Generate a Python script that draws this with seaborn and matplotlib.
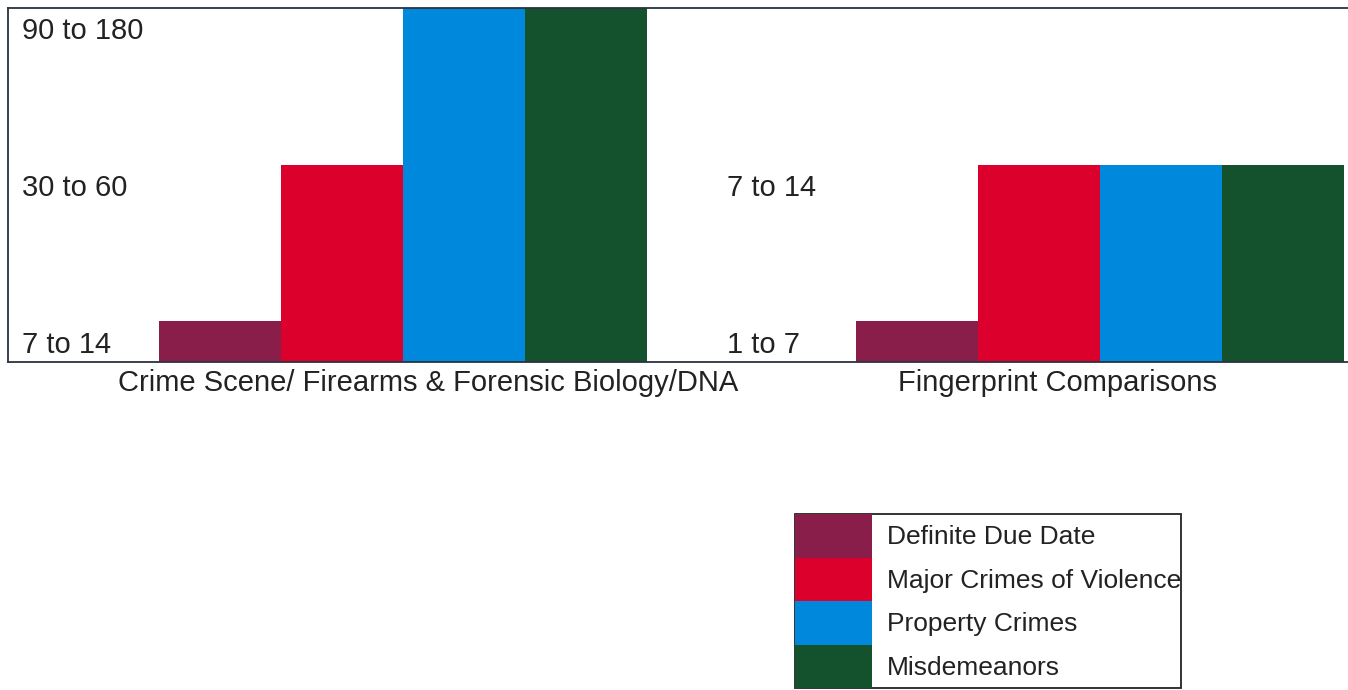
import pandas as pd
import seaborn as sns
import matplotlib.pyplot as plt

# data
sections = ["Crime Scene/ Firearms & Forensic Biology/DNA", "Fingerprint Comparisons"]
series = ["Definite Due Date", "Major Crimes of Violence", "Property Crimes", "Misdemeanors"]
# ordinal turnaround level (1 = lowest range)
crime_scene_levels = [1, 2, 3, 3]
fingerprint_levels = [1, 2, 2, 2]
crime_scene_ticks = ["7 to 14", "30 to 60", "90 to 180"]
fingerprint_ticks = ["1 to 7", "7 to 14"]
colors = ["#8A1E4B", "#DC002D", "#0088DD", "#14522D"]

df = pd.DataFrame({
    "section": [sections[0]] * 4 + [sections[1]] * 4,
    "series": series * 2,
    "level": crime_scene_levels + fingerprint_levels,
})

sns.set_style("white")
plt.rcParams["font.family"] = ["Liberation Sans", "DejaVu Sans"]

fig = plt.figure(figsize=(13.48, 6.90), dpi=100)
ax = fig.add_axes([8 / 1348, 1 - 362 / 690, 1 - 8 / 1348, 354 / 690])

sns.barplot(data=df, x="section", y="level", hue="series", order=sections,
            hue_order=series, palette=colors, saturation=1, width=0.7,
            linewidth=0, ax=ax)

ax.set_xlim(-0.567, 1.356)
ax.set_ylim(0.74, 3.0)
ax.set_xlabel("")
ax.set_ylabel("")
ax.set_yticks([])

# x labels sit a bit off the group centres in the original
ax.set_xticks([0.036, 0.939])
ax.set_xticklabels(sections, fontsize=21, color="#222222")
ax.tick_params(axis="x", length=0, pad=5)

# range labels drawn inside the plot
for x0, ticks in [(-0.547, crime_scene_ticks), (0.465, fingerprint_ticks)]:
    for i, t in enumerate(ticks):
        ax.text(x0, i + 1 - 0.15, t, fontsize=21, color="#222222",
                ha="left", va="center")

for s in ["left", "top", "bottom"]:
    ax.spines[s].set_color("#2a3340")
    ax.spines[s].set_linewidth(1.3)
ax.spines["right"].set_visible(False)

handles, labels = ax.get_legend_handles_labels()
ax.get_legend().remove()
leg = fig.legend(handles, labels, loc="upper left",
                 bbox_to_anchor=(795 / 1348, 1 - 514 / 690),
                 bbox_transform=fig.transFigure, fontsize=19,
                 handlelength=2.92, handleheight=2.16, handletextpad=0.57,
                 labelspacing=0, borderpad=0, borderaxespad=0,
                 fancybox=False, framealpha=1)
leg.get_frame().set_edgecolor("#222222")
leg.get_frame().set_linewidth(1.3)
for t in leg.get_texts():
    t.set_color("#222222")

fig.savefig("out.png", dpi=100)
